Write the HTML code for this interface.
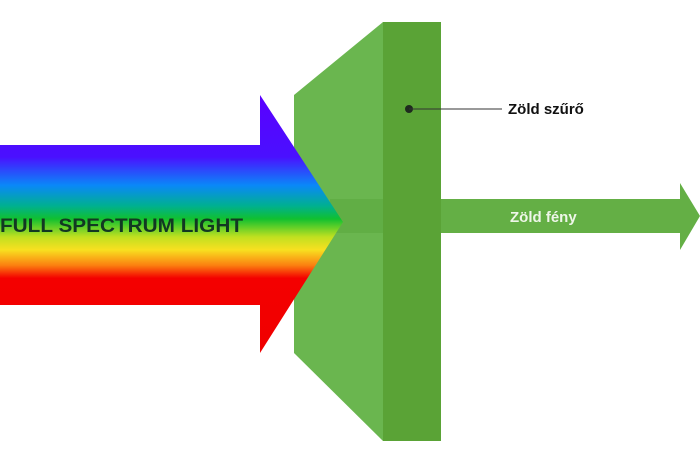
<!DOCTYPE html>
<html><head><meta charset="utf-8"><style>
html,body{margin:0;padding:0;background:#fff;}
svg{display:block;}
</style></head><body>
<svg width="700" height="460" viewBox="0 0 700 460" xmlns="http://www.w3.org/2000/svg">
<defs>
<linearGradient id="rb" x1="0" y1="95" x2="0" y2="353" gradientUnits="userSpaceOnUse">
<stop offset="0" stop-color="#5a00ff"/>
<stop offset="0.24" stop-color="#4a10ff"/>
<stop offset="0.35" stop-color="#0a88f8"/>
<stop offset="0.43" stop-color="#00b090"/>
<stop offset="0.48" stop-color="#10c030"/>
<stop offset="0.55" stop-color="#c0e020"/>
<stop offset="0.6" stop-color="#f8e020"/>
<stop offset="0.66" stop-color="#fb8010"/>
<stop offset="0.71" stop-color="#f40000"/>
<stop offset="1" stop-color="#f00000"/>
</linearGradient>
</defs>
<polygon points="294,95 383,22 383,441 294,353" fill="#6ab64f"/>
<rect x="330" y="199" width="53" height="34" fill="#61ae45"/>
<polygon points="0,145 260,145 260,95 343,222 260,353 260,305 0,305" fill="url(#rb)"/>
<rect x="383" y="22" width="58" height="419" fill="#5aa336"/>
<polygon points="441,199 680,199 680,183 700,216 680,250 680,233 441,233" fill="#64af45"/>
<circle cx="409" cy="109" r="4" fill="#1e2a1e"/>
<line x1="409" y1="109" x2="502" y2="109" stroke="#333" stroke-width="1"/>
<text x="508" y="114" font-family="Liberation Sans, sans-serif" font-weight="bold" font-size="15" fill="#111">Zöld szűrő</text>
<text x="510" y="222" font-family="Liberation Sans, sans-serif" font-weight="bold" font-size="15" fill="#eef6e8">Zöld fény</text>
<text x="0" y="232" font-family="Liberation Sans, sans-serif" font-weight="bold" font-size="19" fill="#123822" textLength="243" lengthAdjust="spacingAndGlyphs">FULL SPECTRUM LIGHT</text>
</svg>
</body></html>
